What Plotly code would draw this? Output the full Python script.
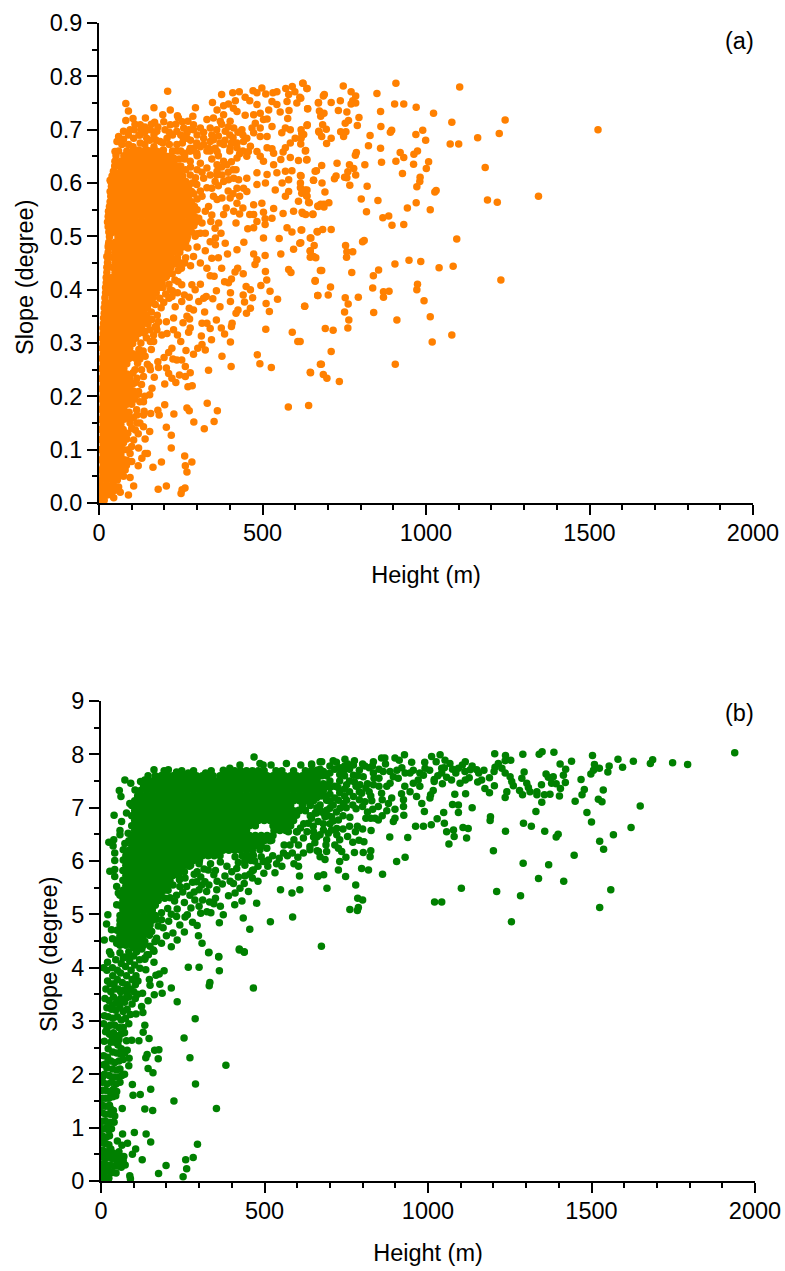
import plotly.graph_objects as go

# Panel (a) (height m, slope degree)
outer_a = [(623,.787),(636,.777),(747,.782),(908,.787),(1103,.780),(771,.771),(785,.763),(689,.766),(686,.763),(850,.768),(617,.759),(671,.750),(710,.751),(738,.754),(776,.754),(785,.750),(771,.748),(904,.748),(932,.748),(970,.742),(638,.739),(674,.735),(688,.731),(678,.725),(732,.736),(758,.733),(861,.734),(1023,.731),(795,.723),(1079,.714),(1242,.718),(763,.717),(753,.712),(636,.708),(684,.709),(790,.708),(862,.706),(695,.701),(895,.699),(891,.695),(990,.699),(1224,.693),(673,.695),(739,.696),(755,.696),(748,.687),(681,.687),(710,.684),(829,.689),(969,.691),(999,.680),(1158,.685),(1074,.673),(1100,.673),(696,.674),(824,.670),(861,.665),(620,.693),(618,.684),(617,.673),(631,.660),(921,.657),(932,.648),(974,.660),(963,.654),(787,.657),(784,.652),(635,.643),(728,.637),(681,.633),(766,.634),(813,.634),(864,.639),(908,.641),(962,.635),(1008,.640),(1001,.627),(1181,.629),(779,.627),(761,.621),(661,.622),(785,.615),(751,.611),(758,.610),(725,.613),(720,.608),(928,.618),(618,.613),(656,.605),(982,.611),(981,.603),(682,.600),(767,.596),(820,.594),(972,.593),(1031,.586),(1027,.583),(630,.587),(635,.576),(620,.581),(691,.583),(802,.570),(853,.567),(1188,.568),(1218,.564),(1344,.575),(643,.563),(703,.563),(688,.560),(678,.560),(671,.556),(688,.555),(970,.563),(943,.553),(1013,.550),(818,.546),(623,.543),(632,.541),(654,.541),(886,.538),(868,.535),(896,.521),(932,.522),(620,.512),(684,.513),(710,.513),(668,.508),(648,.497),(1094,.495),(811,.492),(806,.490),(617,.488),(754,.483),(658,.483),(646,.473),(776,.471),(758,.471),(757,.461),(646,.461),(663,.460),(681,.436),(773,.432),(905,.448),(948,.455),(984,.453),(1040,.441),(1083,.444),(855,.437),(839,.426),(661,.416),(1229,.418),(974,.410),(708,.405),(837,.403),(972,.400),(870,.396),(887,.397),(669,.389),(701,.390),(753,.385),(793,.386),(870,.386),(994,.379),(762,.373),(629,.369),(751,.358),(840,.357),(1013,.349),(911,.343),(764,.343),(692,.327),(716,.324),(761,.328),(1079,.315),(1019,.302),(615,.303),(710,.284),(680,.260),(906,.260),(647,.244),(686,.241),(697,.234),(735,.228),(1526,.700)]

upper_a = [(210,.772),(82,.749),(168,.741),(90,.735),(142,.722),(82,.717),(104,.721),(126,.709),(170,.714),(195,.728),(218,.737),(240,.726),(295,.741),(287,.725),(272,.716),(347,.751),(375,.766),(409,.769),(429,.771),(447,.761),(461,.754),(471,.773),(483,.769),(498,.778),(510,.767),(532,.769),(544,.771),(571,.777),(591,.781),(624,.787),(636,.777),(599,.771),(614,.761),(605,.750),(580,.766),(671,.751),(638,.739),(581,.736),(554,.733),(519,.737),(529,.753),(483,.747),(493,.731),(381,.745),(396,.748),(417,.754),(422,.734),(447,.727),(361,.737),(330,.719),(381,.728),(371,.716),(401,.716),(437,.700),(468,.703),(503,.719),(514,.720),(529,.706),(577,.721),(570,.703),(637,.709),(618,.700),(559,.694),(585,.700),(672,.697),(626,.691),(600,.684),(585,.675),(570,.666),(563,.658),(632,.661),(585,.648),(556,.644),(610,.642),(636,.644),(514,.687),(493,.687),(473,.694),(529,.664),(514,.666),(534,.656),(463,.669),(457,.659),(422,.675),(442,.678),(386,.697),(350,.681),(320,.672),(335,.665),(381,.672),(299,.675),(279,.665),(238,.697),(208,.684),(177,.697),(157,.700),(75,.697),(60,.687),(55,.678),(49,.659),(49,.641),(49,.619),(34,.605),(39,.591),(44,.572),(29,.547),(34,.525),(36,.506),(29,.484),(24,.462),
(419,.625),(452,.609),(427,.606),(483,.619),(514,.616),(544,.619),(590,.623),(570,.622),(616,.614),(656,.605),(665,.623),(509,.600),(539,.587),(560,.600),(580,.606),(616,.600),(580,.584),(570,.575),(616,.591),(636,.587),(636,.575),(610,.566),(641,.564),(669,.557),(595,.547),(621,.545),(654,.542),(563,.543),(534,.552),(529,.534),(508,.533),(503,.545),(473,.559),(483,.597),(452,.584),(442,.590),(412,.609),(396,.606),(376,.615),(361,.622),(391,.634),(422,.647),(452,.650),(493,.650),(503,.641),(534,.634),(422,.590),(401,.572),(422,.562),(376,.572),(361,.569),(498,.562),(473,.541),(483,.528),(461,.541),(440,.553),(430,.542),(412,.547),(389,.553),(381,.541),(366,.525),(419,.525),(473,.516),(455,.514),(503,.497),(508,.522),(551,.496),(575,.516),(590,.508),(618,.512),(614,.487),(646,.497),(667,.509),(595,.476),(646,.472),(656,.462),(556,.467),(508,.464),(473,.467),(483,.456),(422,.475),(393,.467),(443,.489),(386,.487),(373,.506),(356,.497),(356,.484),(325,.506),(325,.473),(345,.459),(310,.506),(294,.500),(269,.495),(272,.478),(289,.462),(325,.547),(342,.528),(335,.556),(305,.534),(320,.609),(355,.603),(330,.591),(299,.597),(381,.603),(330,.628),(279,.615),(361,.634),(381,.641),(310,.637),(279,.641),(259,.656),(299,.656),(269,.684),(238,.672),(197,.662),(228,.647),(187,.678),(146,.684),(126,.675),(106,.684),(90,.672),(126,.690),(95,.700),(401,.666),(422,.666),(361,.659),(340,.678),(320,.684),(289,.700),(310,.703),(340,.703),(412,.703),(452,.684),(483,.659),(218,.709),(202,.700),(259,.703),(269,.694),(243,.722),(289,.709),(350,.722),(411,.740),(544,.747),(575,.753),(473,.728),(478,.712),(493,.703),(258,.684),(225,.690),(168,.668),(146,.662),(70,.672),(110,.660),(190,.650),(168,.690),(320,.695),(360,.700),(400,.690),(430,.655),(300,.690),(75,.682),(90,.690),(108,.700),(140,.695),(155,.680),(215,.672),(250,.690),(280,.680),(330,.660),(370,.675),(410,.685)]

lower_a = [(580,.438),(587,.432),(677,.436),(661,.417),(669,.389),(629,.369),(509,.434),(513,.418),(495,.408),(523,.397),(546,.382),(511,.374),(521,.359),(510,.326),(591,.320),(608,.303),(484,.278),(492,.261),(527,.254),(646,.245),(677,.260),(579,.180),(641,.183),(404,.256),(376,.275),(335,.249),(402,.302),(344,.306),(384,.317),(374,.328),(407,.337),(405,.331),(359,.343),(419,.356),(425,.362),(451,.356),(463,.365),(445,.377),(470,.385),(441,.390),(450,.406),(463,.400),(402,.378),(402,.394),(359,.398),(370,.368),(348,.383),(384,.415),(396,.413),(405,.420),(416,.433),(424,.440),(441,.430),(477,.447),(340,.426),(352,.425),(310,.410),(242,.415),(253,.409),(284,.409),(294,.400),(328,.387),(305,.378),(320,.384),(253,.378),(276,.386),(261,.390),(240,.394),(218,.400),(223,.387),(233,.368),(276,.365),(289,.362),(323,.358),(269,.350),(277,.345),(228,.347),(206,.340),(182,.340),(175,.332),(141,.322),(208,.318),(228,.325),(257,.338),(279,.328),(274,.320),(240,.315),(250,.303),(313,.313),(315,.337),(330,.337),(340,.327),(315,.297),(302,.290),(325,.287),(289,.279),(266,.286),(223,.290),(213,.282),(199,.273),(180,.265),(182,.254),(226,.270),(238,.268),(253,.268),(264,.256),(279,.244),(246,.240),(264,.237),(223,.234),(213,.243),(206,.253),(169,.236),(155,.256),(157,.250),(201,.223),(235,.226),(272,.218),(285,.220),(162,.215),(155,.203),(136,.190),(121,.209),(136,.237),(116,.234),(141,.275),(157,.303),(160,.288),(121,.280),(177,.325),(192,.315),(167,.315),(167,.303),(136,.319),(269,.178),(276,.173),(331,.187),(362,.173),(352,.153),(322,.139),(290,.152),(229,.167),(201,.184),(180,.174),(184,.165),(158,.168),(206,.142),(221,.127),(221,.103),(262,.088),(284,.077),(264,.070),(269,.058),(191,.077),(165,.067),(181,.026),(206,.032),(263,.028),(254,.025),(251,.018),(106,.032),(90,.015),(95,.048),(80,.062),(131,.084),(141,.093),(148,.093),(121,.103),(100,.078),(95,.093),(100,.106),(106,.118),(75,.113),(141,.120),(155,.134),(136,.143),(116,.150),(111,.137),(88,.131),(136,.165),(116,.165),(95,.159),(138,.172),(85,.197)]

extra_a = [(172,.372),(190,.366),(160,.358),(178,.352),(198,.376),(214,.384),(186,.384),(204,.392),(224,.398),(196,.404),(214,.41),(232,.418),(206,.424),(224,.43),(242,.436),(218,.442),(236,.448),(252,.44),(262,.45),(240,.46),(150,.336),(162,.344),(172,.33),(145,.31),(128,.30),(122,.288),(110,.272),(118,.262),(104,.244),(112,.226),(130,.222),(146,.35),(135,.342),(155,.325),
(104,.668),(122,.662),(140,.672),(122,.69),(140,.705),(160,.71),(180,.705),(198,.715),(215,.695),(235,.71),(255,.715),(275,.70),(255,.675),(290,.665),(310,.668),(345,.69),(365,.688),(385,.68),(375,.71),(395,.705),(425,.695),(440,.69),(405,.675),(355,.665),(225,.66),(250,.66),(195,.675),(175,.68),(130,.70),(110,.71),(280,.66),
(262,.645),(280,.63),(300,.625),(315,.62),(345,.645),(360,.615),(375,.63),(395,.62),(410,.625),(405,.64),(340,.615),(295,.61),(265,.625),(285,.60),(310,.585),(345,.59),(365,.595),(395,.585),(410,.58),(430,.575),(300,.57),(315,.575),(290,.58),(350,.575),(250,.632),(245,.645),(300,.55),(315,.525),(290,.52),(300,.505),(285,.53),(345,.54),(355,.515),(340,.49),(300,.48),(310,.45),(265,.46),(250,.45),(280,.445),(330,.44),(365,.46),(375,.44),
(95,.24),(105,.21),(100,.19),(92,.17),(95,.15),(105,.16),(100,.14),(85,.12),(115,.175),(125,.19),(110,.25),(125,.27),(130,.25),(135,.285),(148,.26),(140,.20),(125,.15),(120,.13),(90,.10),(85,.08),(75,.05),(60,.03),(65,.02),(45,.01),(120,.07)]

dense_a = [
(.005,[3,16]),(.015,[8,24,38]),(.024,[3,18,34,50]),(.033,[9,27,45]),(.043,[4,22,40,56]),(.052,[12,30,48,66]),(.062,[4,22,40,58,74]),(.071,[13,31,49,67,84]),(.081,[4,22,40,58,76]),(.09,[13,31,49,67]),
(.1,[3,22,40,58,76]),(.109,[13,31,49,67]),(.119,[4,22,40,58,76]),(.128,[13,31,49,67,80]),(.138,[4,22,40,58,74]),(.147,[13,31,49,67]),(.157,[4,22,40,58,76]),(.166,[13,31,49,67,82]),(.176,[5,22,40,58,76]),(.185,[13,31,49,67,85,100]),
(.195,[5,22,40,58,76,94,110]),(.204,[13,31,49,67,85,103,120]),(.214,[6,22,40,58,76,94]),(.223,[13,31,49,67,85,103]),(.233,[6,22,40,58,76,94]),(.242,[13,31,49,67,85]),(.252,[7,22,40,58,76]),(.261,[13,31,49,67,85]),(.271,[8,22,40,58,76,92]),(.28,[13,31,49,67,85,103]),
(.29,[9,22,40,58,76,94]),(.299,[13,31,49,67,85,103]),(.309,[10,22,40,58,76,94,112]),(.318,[13,31,49,67,85,103,121]),(.328,[12,22,40,58,76,94,112,130]),(.337,[14,31,49,67,85,103,121,139]),(.347,[14,22,40,58,76,94,112,130,148]),(.356,[16,31,49,67,85,103,121,139]),(.366,[16,22,40,58,76,94,112,130,148]),(.375,[18,31,49,67,85,103,121,139,157]),
(.385,[18,40,58,76,94,112,130,148,166]),(.394,[20,31,49,67,85,103,121,139,157,175]),(.404,[20,40,58,76,94,112,130,148,166,184]),(.413,[22,31,49,67,85,103,121,139,157,175,193]),(.423,[22,40,58,76,94,112,130,148,166,184,202]),(.432,[24,49,67,85,103,121,139,157,175,193,211]),(.442,[24,40,58,76,94,112,130,148,166,184,202,220]),(.451,[26,49,67,85,103,121,139,157,175,193,211,229]),(.461,[26,40,58,76,94,112,130,148,166,184,202,220]),(.47,[28,49,67,85,103,121,139,157,175,193,211,229,247]),
(.48,[28,40,58,76,94,112,130,148,166,184,202,220,238,256]),(.489,[30,49,67,85,103,121,139,157,175,193,211,229,247,265]),(.499,[32,58,76,94,112,130,148,166,184,202,220,238,256,270]),(.508,[30,49,67,85,103,121,139,157,175,193,211,229,247,265,283]),(.518,[28,40,58,76,94,112,130,148,166,184,202,220,238,256,274]),(.527,[26,49,67,85,103,121,139,157,175,193,211,229,247,265,283,296]),(.537,[28,40,58,76,94,112,130,148,166,184,202,220,238,256,274,292]),(.546,[30,49,67,85,103,121,139,157,175,193,211,229,247,265,283]),(.556,[32,40,58,76,94,112,130,148,166,184,202,220,238,256,274,292]),(.565,[34,49,67,85,103,121,139,157,175,193,211,229,247,265,283]),
(.575,[36,58,76,94,112,130,148,166,184,202,220,238,256,274]),(.584,[34,49,67,85,103,121,139,157,175,193,211,229,247,265,283]),(.594,[38,58,76,94,112,130,148,166,184,202,220,238,256,274]),(.603,[36,49,67,85,103,121,139,157,175,193,211,229,247,265]),(.613,[40,58,76,94,112,130,148,166,184,202,220,238,256]),(.622,[44,67,85,103,121,139,157,175,193,211,229,247]),(.632,[48,58,76,94,112,130,148,166,184,202,220,238]),(.641,[50,67,85,103,121,139,157,175,193,211,229]),(.651,[52,76,94,112,130,148,166,184,202,220,262,300,365]),(.66,[60,85,103,121,139,157,175,193,240,276,340,400,440])]

# Panel (b) (height m, slope degree)
outer_b = [(1938,8.03),(1794,7.81),(1748,7.84),(1687,7.90),(1680,7.83),(1628,7.87),(1581,7.91),(1595,7.76),(1554,7.78),(1550,7.67),(1503,7.98),(1509,7.81),(1524,7.74),(1506,7.70),(1498,7.63),(1439,7.87),(1404,7.82),(1385,8.04),(1349,8.05),(1340,8.00),(1290,8.00),(1237,7.98),(1253,7.89),(1236,7.88),(1204,8.01),(1215,7.83),(1205,7.76),(1226,7.74),(1202,7.68),(1236,7.65),(1251,7.58),(1256,7.49),(1261,7.41),(1287,7.55),(1294,7.67),(1302,7.46),(1307,7.38),(1280,7.32),(1289,7.24),(1312,7.30),(1333,7.30),(1333,7.24),(1347,7.43),(1361,7.63),(1383,7.58),(1368,7.57),(1378,7.46),(1392,7.45),(1421,7.72),(1414,7.61),(1420,7.47),(1405,7.36),(1468,7.53),(1478,7.34),(1471,7.24),(1536,7.33),(1521,7.16),(1532,7.11),(1649,7.03),(1486,6.91),(1450,7.12),(1402,7.22),(1373,7.25),(1356,7.24),(1348,7.10),(1330,6.93),(1500,6.73),(1621,6.63),(1567,6.49),(1525,6.37),(1537,6.22),(1447,6.11),(1398,6.50),(1392,6.45),(1357,6.56),(1316,6.65),(1292,6.71),(1237,6.56),(1191,6.83),(1190,6.76),(1241,7.30),(1236,7.19),(1203,7.41),(1188,7.28),(1174,7.36),(1188,7.56),(1164,7.52),(1152,7.48),(1171,7.70),(1149,7.71),(1129,7.71),(1113,7.68),(1126,7.56),(1114,7.52),(1098,7.46),(1093,7.74),(1114,7.86),(1085,7.65),(1072,7.52),(1057,7.57),(1042,7.65),(1042,7.74),(1067,7.83),(1052,7.89),(1037,7.99),(1011,7.96),(1025,7.86),(991,7.74),(986,7.61),(1019,7.53),(1044,7.45),(1019,7.49),(1115,7.26),(1082,7.25),(1016,7.32),(1008,7.24),(1006,7.18),(965,7.21),(981,7.08),(1075,7.06),(1093,7.05),(1135,7.00),(1093,6.91),(989,6.93),(1048,6.91),(1028,6.79),(1050,6.71),(1010,6.68),(986,6.65),(962,6.65),(1107,6.63),(1123,6.61),(1078,6.58),(1057,6.55),(1080,6.46),(1118,6.43),(1064,6.32),(1200,6.19),(1291,5.96),(1369,5.93),(1338,5.67),(1415,5.62),(1559,5.46),(1525,5.13),(1283,5.35),(1210,5.43),(1102,5.49),(1042,5.23),(1020,5.23),(1255,4.86),(674,4.40),(861,5.75),(930,6.07),(904,5.99),(938,6.44),(883,6.45),(926,6.86),(899,6.97),(899,6.80),(894,6.74),(874,6.94),(879,7.08),(889,7.18),(925,7.02),(925,7.15),(919,7.26),(929,7.40),(945,7.30),(848,6.77),(838,6.80),(825,6.80),(810,6.80),(848,7.02),(831,6.97),(826,6.57),(784,6.65),(778,6.55),(754,6.46),(789,6.39),(804,6.36),(825,6.19),(823,6.08),(802,6.16),(775,6.16),(797,5.86),(818,5.83),(748,5.71),(726,5.83),(730,5.99),(749,6.07),(736,6.18),(726,6.24),(715,6.30),(685,6.03),(670,6.08),(690,6.18),(688,6.30),(661,6.19),(654,6.34),(639,6.21),(663,5.71),(681,5.74),(691,5.49),(779,5.55),(785,5.30),(800,5.27),(787,5.13),(784,5.07),(761,5.09),(721,6.61),(721,6.49),(705,6.58),(695,6.52),(680,6.58),(670,6.49),(726,6.77),(705,6.83),(685,6.83),(761,6.82),(780,6.98),(659,6.90),(664,6.74),(644,6.80),(649,6.65),(731,6.99),(741,7.08),(700,6.99),(670,7.05),(639,7.08),(807,7.11),(828,7.13),(797,7.27),(772,7.21),(751,7.14),(726,7.14),(690,7.14),(659,7.18),(884,7.46),(930,7.65),(950,7.85),(928,7.99),(899,7.93),(912,7.89),(868,7.93),(858,7.93),(833,7.86),(807,7.78),(772,7.80),(746,7.91),(710,7.88),(675,7.86),(644,7.80),(863,7.68),(884,7.68),(894,7.58),(909,7.55),(955,7.46),(970,7.52),(975,7.40),(945,7.65),(833,7.65),(802,7.58),(772,7.61),(741,7.68),(700,7.65),(670,7.61),(644,7.52),(833,7.43),(858,7.27),(751,7.43),(715,7.40),(680,7.33),(649,7.33),(874,7.40),(792,7.43),
(730,7.75),(760,7.72),(790,7.70),(820,7.75),(850,7.55),(700,7.50),(730,7.50),(760,7.50),(790,7.30),(820,7.30),(850,7.40),(680,7.45),(660,7.40),(700,7.25),(730,7.28),(760,7.30),(650,7.45),(670,7.72),(700,7.78),(645,7.65),(660,7.55),(690,7.60),(730,7.62),(660,7.00),(690,6.95),(710,6.75),(720,7.85),(755,7.82),(785,7.60),(815,7.45),(780,7.40),(745,7.35),(690,7.42),(670,7.25),(700,7.12),(680,6.9)]

edge_b = [(468,7.95),(486,7.83),(496,7.80),(520,7.80),(567,7.83),(611,7.80),(644,7.82),(670,7.86),(425,7.80),(394,7.74),(374,7.70),(343,7.60),(320,7.65),(267,7.65),(231,7.67),(206,7.71),(187,7.60),(162,7.71),(144,7.60),(134,7.52),(121,7.49),(73,7.52),(91,7.46),(104,7.33),(56,7.32),(61,7.21),(88,7.08),(78,6.90),(40,6.86),(63,6.74),(58,6.57),(83,6.52),(58,6.49),(24,6.35),(39,6.40),(37,6.28),(73,6.33),(68,6.21),(42,6.15),(42,6.01),(68,6.02),(27,5.81),(42,5.84),(42,5.71),(48,5.52),(53,5.40),(48,5.18),(21,4.99),(17,4.82),(32,4.71),(10,4.52),(35,4.54),(26,4.30),(48,4.46),(68,4.68),(58,4.89),(73,5.08),(78,5.52),(78,5.33),(88,5.77),(96,6.08),
(664,5.72),(607,5.72),(608,5.46),(584,5.40),(549,5.46),(586,4.95),(518,4.86),(476,5.21),(455,4.72),(435,4.93),(431,5.25),(409,5.18),(451,5.43),(438,5.58),(425,5.49),(405,5.58),(374,4.99),(362,4.84),(336,5.03),(324,5.05),(332,5.23),(323,5.43),(311,5.27),(287,5.27),(294,4.79),(298,4.60),(309,4.46),(330,4.29),(360,4.21),(423,4.35),(438,4.30),(264,4.99),(257,4.95),(233,5.10),(231,4.96),(241,4.80),(255,4.67),(233,4.52),(215,4.39),(207,4.87),(204,5.11),(211,5.31),(195,5.30),(185,5.03),(170,4.91),(175,4.78),(150,4.80),(155,4.68),(185,4.46),(165,4.49),(160,4.33),(134,4.49),(145,4.24),(134,4.18),(109,4.30),(88,4.21),(68,4.18),(99,4.71),(114,4.80),(231,5.36),(241,5.52),(262,5.52),(272,5.36),(257,5.68),(300,5.46),(318,5.61),(308,5.55),(354,5.46),(371,5.57),(345,5.74),(379,5.72),(292,5.61),(294,5.80),(328,5.83),(415,5.86),(466,5.83),(463,5.82),(463,5.68),(498,5.77),(532,5.78),(537,5.95),(553,5.90),(496,5.99),(512,6.02),(590,5.95),(604,5.90),(602,6.07),(619,6.15),(558,6.15),(639,6.27),(665,6.18),(578,6.30),(604,6.30),(619,6.43),(573,6.55),(598,6.55),(634,6.71),(598,6.86),(486,6.21),(507,6.24),(466,6.11),(522,6.39),(445,6.46),(425,6.65)]

low_b = [(329,4.28),(360,4.20),(423,4.33),(438,4.29),(267,4.01),(300,4.01),(362,3.94),(333,3.72),(331,3.66),(466,3.62),(215,3.62),(233,3.36),(288,3.04),(254,2.68),(272,2.31),(382,2.17),(289,1.82),(223,1.50),(353,1.36),(295,.69),(282,.44),(259,.40),(199,.29),(262,.23),(176,.14),(251,.08),(88,.10),(90,.04),(126,.40),(96,.50),(106,.60),(81,.71),(64,.67),(50,.75),(152,.73),(66,.88),(102,.91),(138,.88),(158,1.32),(134,1.35),(65,1.36),(98,1.61),(120,1.62),(152,1.72),(96,1.81),(159,2.03),(144,2.11),(85,2.16),(86,2.30),(137,2.31),(141,2.37),(175,2.29),(164,2.45),(177,2.46),(116,2.63),(94,2.64),(78,2.63),(147,2.67),(129,2.79),(134,2.92),(107,3.13),(128,3.16),(124,3.27),(144,3.38),(163,3.49),(187,3.52),(127,3.52),(180,3.69),(150,3.67),(148,3.78),(168,3.86),(178,3.88),(193,3.94),(137,3.96),(119,3.99),(107,3.85),(162,4.10),(141,4.24),(162,4.31),(134,4.16)]

column_b = [(20,4.1),(18,3.95),(20,3.75),(30,4.25),(35,4.0),(36,3.85),(40,3.7),(45,4.15),(50,3.95),(50,3.78),(58,4.28),(62,4.08),(60,3.9),(65,3.72),(72,4.2),(75,4.02),(78,3.85),(80,3.68),(85,4.3),(88,4.12),(92,3.95),(95,3.78),(100,4.22),(103,4.05),(110,4.33),(113,3.75),(105,3.68),(118,4.15),(90,3.6),(70,3.58),(52,3.6),(30,3.55),(15,3.6),
(12,3.42),(25,3.38),(38,3.45),(48,3.36),(60,3.42),(72,3.35),(85,3.45),(95,3.32),(105,3.42),(112,3.5),(18,3.25),(32,3.22),(45,3.2),(58,3.25),(68,3.18),(80,3.22),(90,3.12),(10,3.1),(22,3.08),(36,3.05),(50,3.08),(62,3.02),(75,3.05),(8,2.95),(28,2.92),(42,2.92),(55,2.88),(68,2.88),(85,2.95),
(14,2.8),(26,2.75),(38,2.78),(48,2.72),(60,2.75),(72,2.78),(10,2.62),(30,2.6),(42,2.6),(52,2.55),(62,2.48),(22,2.48),(36,2.42),(48,2.4),(60,2.38),(8,2.35),(20,2.32),
(30,2.25),(42,2.22),(55,2.25),(68,2.28),(8,2.18),(18,2.12),(35,2.1),(48,2.08),(58,2.1),(10,2.0),(25,1.98),(40,1.95),(55,1.95),(64,1.98),(72,2.0),(5,1.85),(18,1.82),(32,1.85),(46,1.82),(58,1.85),
(4,1.7),(14,1.7),(26,1.68),(38,1.72),(48,1.68),(4,1.55),(14,1.55),(24,1.55),(36,1.58),(4,1.42),(14,1.4),(26,1.42),(38,1.32),(4,1.28),(14,1.25),(28,1.25),(42,1.22),(4,1.12),(14,1.12),(28,1.1),(40,1.1),(4,.98),(14,.98),(24,.95),(4,.85),(16,.82),(26,.85),(4,.72),(14,.7),(24,.68),(30,.6),
(4,.58),(12,.55),(4,.45),(14,.42),(24,.45),(34,.42),(46,.4),(58,.42),(68,.38),(74,.3),(4,.32),(16,.3),(28,.3),(40,.28),(52,.28),(62,.26),(4,.2),(14,.18),(26,.18),(36,.16),(46,.15),(4,.08),(14,.06),(24,.05),(2,0.0),(55,.55),(50,.5),(18,.02),
(8,4.0),(28,3.7),(42,3.6),(60,3.55),(80,3.5),(100,3.55),(35,3.3),(55,3.32),(75,3.42),(18,2.85),(35,2.68),(55,2.65),(80,2.45),(72,2.4),(15,2.2),(45,1.6),(30,1.35),(18,1.0),(32,.98),(8,.5),(20,.55),(38,.52),(70,.46),(60,.33),(10,.25),(5,1.95)]

extra_b = [(225,5.85),(240,5.95),(255,5.8),(270,5.9),(285,5.75),(300,5.95),(315,5.85),(335,5.95),(350,5.82),(365,5.98),(385,5.9),(400,5.8),(420,5.97),(440,5.92),(455,5.75),(480,5.9),(470,6.0),(510,5.9),(525,6.1),(545,6.05),(570,6.1),(585,6.15),(240,5.65),(220,5.55),(205,5.45),(280,5.6),(305,5.7),(355,5.62),(330,5.55),(395,5.62),(420,5.7),(440,5.72),(480,5.62),(490,6.08),(410,6.08),(300,6.02),(285,5.42),(250,5.42),(225,5.25),(255,5.22),(275,5.12),(300,5.15),(350,5.3),(365,5.15),(390,5.35),(410,5.4),(345,5.2),(305,5.02),(280,4.85),(220,4.65),(200,4.6),(190,4.75),(185,4.9),(215,5.0),(170,4.55),(150,4.4),(120,4.45),(125,4.35),(100,4.38),(560,6.3),(590,6.4),(600,6.55),(610,6.62),(650,6.45),(630,6.55),(640,6.85),(620,6.7),(605,6.95),(655,6.9),(625,6.95),
(660,7.7),(680,7.68),(715,7.72),(745,7.78),(775,7.88),(800,7.82),(830,7.78),(850,7.72),(870,7.82),(700,7.38),(725,7.38),(745,7.6),(775,7.48),(810,7.37),(835,7.55),(825,7.22),(790,7.15),(770,7.05),(745,7.22),(715,7.18),(680,7.22),(710,7.05),(750,7.0),(695,6.85),(670,6.95),(655,7.22),(640,7.3),(640,7.15),(800,7.02),(815,6.92),(740,6.85),(720,6.92),(760,6.65),(740,6.6),(700,6.7),(680,6.7),(660,6.45),(690,6.4),(730,6.4),(650,6.55),(770,6.35),(800,6.6),(860,7.15),(860,6.85),(905,7.7),(920,7.75),(955,7.7),(975,7.65),(990,7.85),(1005,7.7),(1030,7.6),(1050,7.75),(1075,7.72),(1105,7.8),(1135,7.78),(1155,7.65)]

dense_b = [
(4.42,[58,76,94,112,130]),(4.52,[49,67,85,103,121]),(4.61,[58,76,94,112,130,148]),(4.7,[49,67,85,103,121,139]),(4.8,[58,76,94,112,130,148]),(4.89,[67,85,103,121,139,157]),(4.98,[58,76,94,112,130,148,166]),(5.08,[67,85,103,121,139,157]),(5.17,[58,76,94,112,130,148,166]),(5.26,[67,85,103,121,139,157,175]),(5.36,[58,76,94,112,130,148,166,184]),(5.45,[67,85,103,121,139,157,175,193]),(5.54,[76,94,112,130,148,166,184,202]),(5.64,[67,85,103,121,139,157,175,193,211]),(5.73,[76,94,112,130,148,166,184,202,220,238]),(5.82,[67,85,103,121,139,157,175,193,211,229,247]),
(5.92,[76,94,112,130,148,166,184,202,220,238,256,274]),(6.01,[85,103,121,139,157,175,193,211,229,247,265,283,301,440,458]),(6.1,[76,94,112,130,148,166,184,202,220,238,256,274,292,310,328,346,364,432,450]),(6.2,[85,103,121,139,157,175,193,211,229,247,265,283,301,319,337,355,373,391,409,427,445,463]),
(6.29,[94,112,130,148,166,184,202,220,238,256,274,292,310,328,346,364,382,400,418,436,454,472,490]),(6.38,[85,103,121,139,157,175,193,211,229,247,265,283,301,319,337,355,373,391,409,427,445,463,481,499,517]),(6.48,[94,112,130,148,166,184,202,220,238,256,274,292,310,328,346,364,382,400,418,436,454,472,490,508,526]),(6.57,[103,121,139,157,175,193,211,229,247,265,283,301,319,337,355,373,391,409,427,445,529,547,565]),
(6.66,[94,112,130,148,166,184,202,220,238,256,274,292,310,328,346,364,382,400,418,436,454,472,526,544,562,580]),(6.76,[103,121,139,157,175,193,211,229,247,265,283,301,319,337,355,373,391,409,427,445,463,481,499,517,535,553,571,589]),(6.85,[94,112,130,148,166,184,202,220,238,256,274,292,310,328,346,364,382,400,418,436,454,472,490,508,526,544,562,580]),(6.94,[103,121,139,157,175,193,211,229,247,265,283,301,319,337,355,373,391,409,427,445,463,481,499,517,535,553,571,589,607,625]),
(7.04,[94,112,130,148,166,184,202,220,238,256,274,292,310,328,346,364,382,400,418,436,454,472,490,508,526,544,562,580,616,640]),(7.13,[103,121,139,157,175,193,211,229,247,265,283,301,319,337,355,373,391,409,427,445,463,481,499,517,535,553,571,589,607,625,650]),(7.22,[112,130,148,166,184,202,220,238,256,274,292,310,328,346,364,382,400,418,436,454,472,490,508,526,544,562,580,598,616,634,652,670,688]),(7.32,[121,139,157,175,193,211,229,247,265,283,301,319,337,355,373,391,409,427,445,463,481,499,517,535,553,571,589,607,625,643,661,679]),
(7.41,[130,148,166,184,202,220,238,256,274,292,310,328,346,364,382,400,418,436,454,472,490,508,526,544,562,580,598,616,634,652,670,688]),(7.5,[139,157,175,193,211,229,247,265,283,301,319,337,355,373,391,409,427,445,463,481,499,517,535,553,571,589,607,625,643,661]),(7.6,[166,184,202,220,238,256,274,292,310,328,364,382,400,418,436,454,472,490,508,526,544,562,580,598,616,634,652,676]),(7.69,[193,247,283,337,391,409,427,445,463,481,499,535,553,589,625,643,670])]

def collect(point_lists, rows):
    xs, ys = [], []
    for pts in point_lists:
        for h, s in pts:
            xs.append(h); ys.append(s)
    for s, hs in rows:
        for h in hs:
            xs.append(h); ys.append(s)
    return xs, ys

ax, ay = collect([outer_a, upper_a, lower_a, extra_a], dense_a)
bx, by = collect([outer_b, edge_b, low_b, column_b, extra_b], dense_b)

W, H = 785, 1271
FONT = "Liberation Sans"
fig = go.Figure()
fig.add_trace(go.Scatter(x=ax, y=ay, mode="markers", marker=dict(color="#FF8000", size=7.5), xaxis="x", yaxis="y", showlegend=False))
fig.add_trace(go.Scatter(x=bx, y=by, mode="markers", marker=dict(color="#008000", size=7.5), xaxis="x2", yaxis="y2", showlegend=False))

def xa(anchor, x0, x1):
    return dict(domain=[x0/W, x1/W], range=[0, 2000], anchor=anchor, automargin=False, dtick=500, ticks="outside", ticklen=10, tickwidth=2,
                tickcolor="black", showline=True, linewidth=2, linecolor="black", showgrid=False, zeroline=False, ticklabelstandoff=-2,
                tickfont=dict(size=23.5, color="black"), title=dict(text="Height (m)", font=dict(size=23.5, color="black"), standoff=21),
                minor=dict(dtick=100, ticks="outside", ticklen=5, tickwidth=2, tickcolor="black", showgrid=False))

def ya(anchor, top, bottom, rmax, major, minor, fmt):
    return dict(domain=[1-bottom/H, 1-top/H], range=[0, rmax], anchor=anchor, automargin=False, dtick=major, tickformat=fmt, ticks="outside", ticklen=10, tickwidth=2,
                tickcolor="black", showline=True, linewidth=2, linecolor="black", showgrid=False, zeroline=False,
                tickfont=dict(size=23.5, color="black"),
                minor=dict(dtick=minor, ticks="outside", ticklen=5, tickwidth=2, tickcolor="black", showgrid=False))

def label(text, x, y, angle=0):
    return dict(text=text, x=x/W, y=1-y/H, xref="paper", yref="paper", showarrow=False, textangle=angle,
                xanchor="center", yanchor="middle", font=dict(size=23.5, color="black"))

fig.update_layout(
    width=W, height=H, autosize=False, paper_bgcolor="white", plot_bgcolor="white",
    margin=dict(l=0, r=0, t=0, b=0), font=dict(family=FONT, color="black"),
    xaxis=xa("y", 99, 753), yaxis=ya("x", 23, 503, 0.9, 0.1, 0.05, ".1f"),
    xaxis2=xa("y2", 101, 755), yaxis2=ya("x2", 701, 1181, 9, 1, 0.5, "d"),
    annotations=[
        label("(a)", 739, 41), label("(b)", 739, 713),
        label("Slope (degree)", 25, 278, -90), label("Slope (degree)", 49, 955, -90),
    ],
)
fig.write_html("out.html", post_script="document.body.style.margin='0';", config={"displayModeBar": False})
